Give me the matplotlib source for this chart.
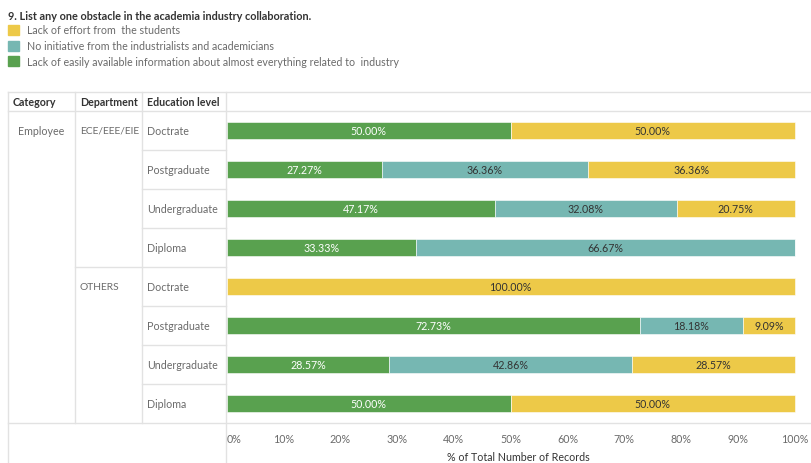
import matplotlib.pyplot as plt
from matplotlib.patches import Rectangle

plt.rcParams['font.family'] = ['Lato', 'DejaVu Sans']

# data (% of total number of records)
departments = ["ECE/EEE/EIE", "OTHERS"]
levels = ["Doctrate", "Postgraduate", "Undergraduate", "Diploma"]
row_labels = levels * 2
lack_of_info = [50.00, 27.27, 47.17, 33.33, 0.00, 72.73, 28.57, 50.00]
no_initiative = [0.00, 36.36, 32.08, 66.67, 0.00, 18.18, 42.86, 0.00]
lack_of_effort = [50.00, 36.36, 20.75, 0.00, 100.00, 9.09, 28.57, 50.00]
x_ticks = [0, 10, 20, 30, 40, 50, 60, 70, 80, 90, 100]

series = [
    ("Lack of easily available information about almost everything related to  industry", lack_of_info, "#59a14f", "white"),
    ("No initiative from the industrialists and academicians", no_initiative, "#76b7b2", "#333333"),
    ("Lack of effort from  the students", lack_of_effort, "#edc948", "#333333"),
]
legend_order = [2, 1, 0]

W, H = 811, 464
fig = plt.figure(figsize=(W / 100, H / 100), dpi=100)

# overlay in pixel coordinates for the table frame, header and legend
ov = fig.add_axes([0, 0, 1, 1])
ov.set_xlim(0, W)
ov.set_ylim(H, 0)
ov.axis("off")

grid_c = "#e2e2e2"
txt_c = "#6a6a6a"
dark = "#333333"
fs = 7.7

ov.text(8, 17, "9. List any one obstacle in the academia industry collaboration.",
        fontsize=fs + 0.1, fontweight="bold", color=dark, va="center")
for k, i in enumerate(legend_order):
    name, _, col, _ = series[i]
    y = 31 + k * 15.5
    ov.add_patch(Rectangle((8, y - 5), 11, 10, color=col))
    ov.text(27, y, name, fontsize=fs, color=txt_c, va="center")

# table geometry (pixels)
top, head_bot, bot = 93, 112, 424
row_h = (bot - head_bot) / len(row_labels)
cols = [8, 75, 142, 226]

ov.plot([cols[0], W], [top, top], color=grid_c, lw=1)
ov.plot([cols[0], W], [head_bot, head_bot], color=grid_c, lw=1)
ov.plot([cols[0], W], [bot, bot], color=grid_c, lw=1)
ov.plot([cols[0], cols[0]], [top, H], color=grid_c, lw=1)
ov.plot([cols[3], cols[3]], [top, H], color=grid_c, lw=1)
for c in cols[1:3]:
    ov.plot([c, c], [top, bot], color=grid_c, lw=1)
for r in range(1, len(row_labels)):
    y = head_bot + r * row_h
    x0 = cols[1] if r == len(levels) else cols[2]
    ov.plot([x0, cols[3]], [y, y], color=grid_c, lw=1)

for c, h in zip(cols[:3], ["Category", "Department", "Education level"]):
    ov.text(c + 5, (top + head_bot) / 2, h, fontsize=fs, fontweight="bold", color=dark, va="center")

ov.text(cols[0] + 10, head_bot + row_h / 2, "Employee", fontsize=fs, color=txt_c, va="center")
for d, dep in enumerate(departments):
    ov.text(cols[1] + 5, head_bot + (d * len(levels) + 0.5) * row_h, dep,
            fontsize=fs - 0.3, color=txt_c, va="center")
for r, lab in enumerate(row_labels):
    ov.text(cols[2] + 5, head_bot + (r + 0.5) * row_h, lab, fontsize=fs, color=txt_c, va="center")

# bar area
ax = fig.add_axes([cols[3] / W, (H - bot) / H, (W - cols[3]) / W, (bot - head_bot) / H])
ax.patch.set_alpha(0)
px = 5.68  # pixels per percent
ax.set_xlim(-0.7 / px, -0.7 / px + (W - cols[3]) / px)
ax.set_ylim(len(row_labels) - 0.5, -0.5)

ypos = list(range(len(row_labels)))
left = [0.0] * len(row_labels)
for name, vals, col, tcol in series:
    ax.barh(ypos, vals, left=left, height=17 / row_h, color=col, edgecolor="white", linewidth=0.4)
    for y, v, l in zip(ypos, vals, left):
        if v > 0:
            ax.text(l + v / 2, y, f"{v:.2f}%", ha="center", va="center", fontsize=fs, color=tcol)
    left = [a + b for a, b in zip(left, vals)]

for s in ax.spines.values():
    s.set_visible(False)
ax.set_yticks([])
ax.set_xticks(x_ticks)
ax.set_xticklabels([f"{t}%" for t in x_ticks], fontsize=fs, color=txt_c)
ax.get_xticklabels()[0].set_horizontalalignment("left")
ax.tick_params(axis="x", length=0, pad=7)
ax.set_xlabel("% of Total Number of Records", fontsize=fs, color=dark, labelpad=5)

fig.savefig("out.png", dpi=100)
